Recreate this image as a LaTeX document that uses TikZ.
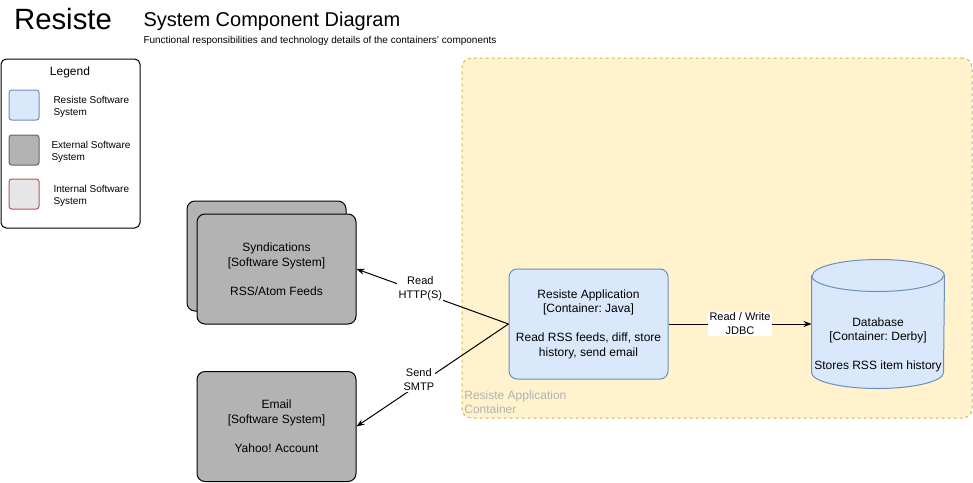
\documentclass[tikz,border=0pt]{standalone}
\usepackage{fontspec}
\setmainfont{Liberation Sans}
\usetikzlibrary{arrows.meta,calc,positioning}
\definecolor{appfill}{HTML}{DAE8FC}
\definecolor{appline}{HTML}{6C8EBF}
\definecolor{extfill}{HTML}{B3B3B3}
\definecolor{extline}{HTML}{666666}
\definecolor{intfill}{HTML}{E6E6E6}
\definecolor{intline}{HTML}{B85450}
\definecolor{contfill}{HTML}{FFF2CC}
\definecolor{contline}{HTML}{D6B656}
\definecolor{contlabel}{HTML}{B3B3B3}
\newcommand{\diagboxfont}{\fontsize{9}{10.9}\selectfont}
\newcommand{\diaglabelfont}{\fontsize{8.25}{10.5}\selectfont}
\newcommand{\diagsmallfont}{\fontsize{7.5}{9}\selectfont}
\frenchspacing

\begin{document}
\begin{tikzpicture}[x=0.75pt, y=-0.75pt, line width=0.75pt,
	box/.style={draw, rounded corners=6pt, minimum width=119.25pt, minimum height=82.5pt, inner sep=0pt, align=center, font=\diagboxfont},
	extbox/.style={box, fill=extfill},
	appbox/.style={box, fill=appfill, draw=appline},
	swatch/.style={rounded corners=2pt, minimum width=22.5pt, minimum height=22.5pt, inner sep=0pt},
	swatchtext/.style={anchor=west, align=left, inner sep=0pt, font=\diagsmallfont},
	flow/.style={-{Stealth[length=6pt, width=4.5pt]}},
	flowlabel/.style={fill=white, inner sep=1pt, align=center, font=\diaglabelfont}]
	\useasboundingbox (0,0) rectangle (973,482);
	% titles
	\node[anchor=base, inner sep=0pt, font=\fontsize{22}{26}\selectfont] (title) at (63,29) {Resiste};
	\node[anchor=base west, inner sep=0pt, font=\fontsize{15}{18}\selectfont] (heading) at (143,26.5) {System Component Diagram};
	\node[anchor=base west, inner sep=0pt, font=\diagsmallfont] (subheading) at (143,43) {Functional responsibilities and technology details of the containers' components};
	% legend
	\node[draw, rounded corners=4pt, minimum width=104.25pt, minimum height=126.75pt, inner sep=0pt] (legend) at (70.5,143.5) {};
	\node[font=\diagboxfont] (legendtitle) at (70,72) {Legend};
	\node[swatch, draw=appline, fill=appfill] (keyapp) at (24,105) {};
	\node[swatch, draw=extline, fill=extfill] (keyext) at (24,150) {};
	\node[swatch, draw=intline, fill=intfill] (keyint) at (24,194) {};
	\node[swatchtext] at (53,107) {Resiste Software\\System};
	\node[swatchtext] at (51,152) {External Software\\System};
	\node[swatchtext] at (53,196) {Internal Software\\System};
	% container
	\node[draw=contline, fill=contfill, dash pattern=on 2.25pt off 2.25pt, rounded corners=7pt, minimum width=382.5pt, minimum height=270pt, inner sep=0pt] (container) at (717,238) {};
	\node[anchor=south west, align=left, inner sep=1pt, text=contlabel, font=\diagboxfont] (containerlabel) at ($(container.south west) + (1,-3)$) {Resiste Application\\Container};
	% systems
	\node[extbox] (synback) at (266.5,256) {};
	\node[extbox] (syn) at (276.5,269) {Syndications\\{}[Software System]\\[10.9pt]RSS/Atom Feeds};
	\node[extbox] (email) at (276.5,426.5) {Email\\{}[Software System]\\[10.9pt]Yahoo! Account};
	\node[appbox] (app) at (588.5,324) {Resiste Application\\{}[Container: Java]\\[10.9pt]Read RSS feeds, diff, store\\history, send email};
	% database
	\node[minimum width=99pt, minimum height=96pt, inner sep=0pt] (db) at (878,324) {};
	\draw[fill=appfill, draw=appline] ($(db.north west) + (0,16)$) -- ($(db.south west) + (0,-16)$)
		arc[start angle=180, end angle=360, x radius=49.5pt, y radius=12pt]
		-- ($(db.north east) + (0,16)$)
		arc[start angle=0, end angle=180, x radius=49.5pt, y radius=12pt] -- cycle;
	\draw[draw=appline] ($(db.north west) + (0,16)$) arc[start angle=180, end angle=360, x radius=49.5pt, y radius=12pt];
	\node[align=center, inner sep=0pt, font=\diagboxfont] (dbtext) at (878,345) {Database\\{}[Container: Derby]\\[10.9pt]Stores RSS item history};
	% relations
	\draw[flow] (app.west) -- node[flowlabel, pos=0.58, yshift=2.5pt] {Read\\HTTP(S)} (syn.east);
	\draw[flow] (app.west) -- node[flowlabel, pos=0.59, yshift=4pt] {Send\\SMTP} (email.east);
	\draw[flow] (app.east) -- node[flowlabel] {Read / Write\\JDBC} (db.west);
\end{tikzpicture}
\end{document}
